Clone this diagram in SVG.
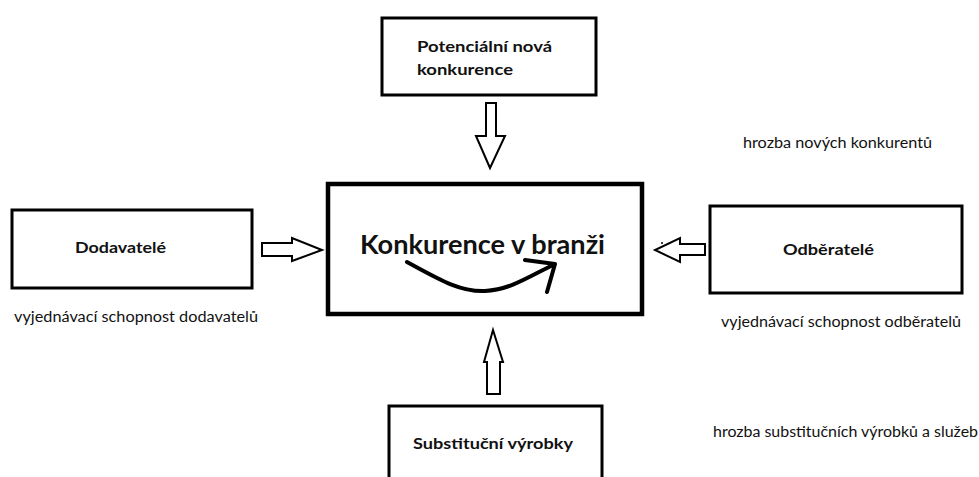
<svg xmlns="http://www.w3.org/2000/svg" width="979" height="477" viewBox="0 0 979 477">
  <style>
    .box { fill: #fff; stroke: #000; stroke-width: 3; }
    .main { fill: #fff; stroke: #000; stroke-width: 4.5; }
    .lbl { font-family: Lato, "Open Sans", "Liberation Sans", sans-serif; font-weight: bold; font-size: 16px; fill: #111; }
    .note { font-family: Lato, "Open Sans", "Liberation Sans", sans-serif; font-size: 14.5px; fill: #111; }
    .title { font-family: Lato, "Open Sans", "Liberation Sans", sans-serif; font-weight: bold; font-size: 27px; fill: #111; }
    .blk { fill: #fff; stroke: #000; stroke-width: 2; stroke-linejoin: miter; }
  </style>
  <rect width="979" height="477" fill="#fff"/>

  <g id="potencialni">
    <rect class="box" x="382" y="18" width="214" height="77"/>
    <text class="lbl" x="417" y="52" textLength="135" lengthAdjust="spacingAndGlyphs">Potenciální nová</text>
    <text class="lbl" x="417" y="75" textLength="96" lengthAdjust="spacingAndGlyphs">konkurence</text>
  </g>

  <g id="konkurence">
    <rect class="main" x="328" y="184" width="314" height="130"/>
    <text class="title" x="360" y="254" textLength="245" lengthAdjust="spacingAndGlyphs">Konkurence v branži</text>
    <path d="M407,262 C440,280 460,292 485,291 C510,290 530,276 555,264 M525,260 L555,264 L547,292" fill="none" stroke="#000" stroke-width="4" stroke-linecap="round" stroke-linejoin="round"/>
  </g>

  <g id="dodavatele">
    <rect class="box" x="12" y="210" width="240" height="78"/>
    <text class="lbl" x="75" y="253" textLength="91" lengthAdjust="spacingAndGlyphs">Dodavatelé</text>
    <text class="note" x="14" y="322" textLength="244" lengthAdjust="spacingAndGlyphs">vyjednávací schopnost dodavatelů</text>
  </g>

  <g id="odberatele">
    <rect class="box" x="710" y="206" width="252" height="87"/>
    <text class="lbl" x="783" y="255" textLength="91" lengthAdjust="spacingAndGlyphs">Odběratelé</text>
    <text class="note" x="721" y="327" textLength="240" lengthAdjust="spacingAndGlyphs">vyjednávací schopnost odběratelů</text>
  </g>

  <g id="substitucni">
    <rect class="box" x="389" y="406" width="213" height="80"/>
    <text class="lbl" x="413" y="449" textLength="160" lengthAdjust="spacingAndGlyphs">Substituční výrobky</text>
  </g>

  <g id="hrozby">
    <text class="note" x="743" y="148" textLength="189" lengthAdjust="spacingAndGlyphs">hrozba nových konkurentů</text>
    <text class="note" x="713" y="437" textLength="265" lengthAdjust="spacingAndGlyphs">hrozba substitučních výrobků a služeb</text>
  </g>

  <g id="connectors">
    <!-- block arrows pointing into the central box -->
    <polygon class="blk" points="486,103 496,103 496,136 505,136 490,168 476,136 486,136"/>
    <polygon class="blk" points="262,243 292,243 292,238 322,250 292,261 292,256 262,256"/>
    <polygon class="blk" points="705,244 680,244 680,238 655,250 680,262 680,255 705,255"/>
    <polygon class="blk" points="487,394 500,394 500,362 503,362 493,330 484,362 487,362"/>
    <circle cx="662" cy="243" r="1" fill="#000"/>
  </g>
</svg>
